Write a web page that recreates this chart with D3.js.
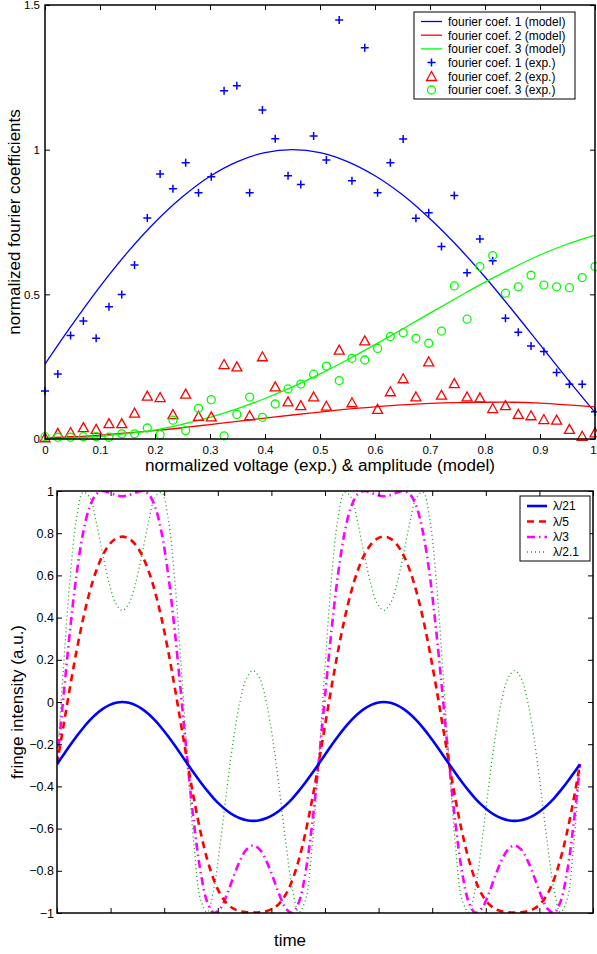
<!DOCTYPE html>
<html><head><meta charset="utf-8">
<script src="https://cdn.jsdelivr.net/npm/d3@7"></script>
<style>
body{margin:0;background:#fff}
svg{display:block}
text{font-family:"Liberation Sans",Arial,Helvetica,sans-serif;fill:#000}
</style>
</head><body><svg id="c" width="597" height="954"></svg>
<script>
// ---------- TOP CHART DATA ----------
const expVoltage = [0,0.0233,0.0465,0.0698,0.0930,0.1163,0.1395,0.1628,0.1860,0.2093,0.2326,0.2558,0.2791,0.3023,0.3256,0.3488,0.3721,0.3953,0.4186,0.4419,0.4651,0.4884,0.5116,0.5349,0.5581,0.5814,0.6047,0.6279,0.6512,0.6744,0.6977,0.7209,0.7442,0.7674,0.7907,0.8140,0.8372,0.8605,0.8837,0.9070,0.9302,0.9535,0.9767,1.0000];
const coef1Exp = [0.166,0.225,0.358,0.408,0.348,0.457,0.499,0.601,0.764,0.916,0.865,0.955,0.851,0.906,1.204,1.221,0.851,1.137,1.038,0.910,0.880,1.047,0.964,1.448,0.893,1.352,0.851,0.955,1.037,0.763,0.782,0.665,0.842,0.575,0.691,0.616,0.417,0.369,0.321,0.302,0.230,0.189,0.189,0.094];
const coef2Exp = [0.005,0.020,0.023,0.040,0.034,0.054,0.054,0.090,0.149,0.144,0.085,0.156,0.079,0.077,0.258,0.250,0.081,0.285,0.181,0.129,0.116,0.146,0.114,0.308,0.126,0.340,0.103,0.164,0.209,0.146,0.267,0.152,0.192,0.146,0.143,0.106,0.116,0.086,0.081,0.068,0.066,0.034,0.010,0.022];
const coef3Exp = [0.008,0.006,0.006,0.008,0.008,0.006,0.018,0.018,0.038,0.015,0.065,0.029,0.106,0.136,0.011,0.085,0.145,0.075,0.121,0.173,0.190,0.224,0.252,0.202,0.279,0.273,0.313,0.354,0.367,0.348,0.331,0.373,0.529,0.414,0.596,0.634,0.504,0.526,0.566,0.532,0.526,0.523,0.558,0.596];
const modelAmp = [0,0.05,0.10,0.15,0.20,0.25,0.30,0.35,0.40,0.45,0.50,0.55,0.60,0.65,0.70,0.75,0.80,0.85,0.90,0.95,1.00];
const coef1Model = [0.259,0.397,0.527,0.645,0.749,0.837,0.908,0.959,0.990,1.000,0.990,0.959,0.910,0.844,0.761,0.666,0.560,0.445,0.326,0.207,0.092];
const coef2Model = [0.003,0.007,0.013,0.021,0.029,0.039,0.050,0.061,0.072,0.083,0.093,0.103,0.111,0.118,0.123,0.126,0.127,0.127,0.124,0.118,0.111];
const coef3Model = [0.001,0.004,0.009,0.019,0.031,0.051,0.075,0.105,0.140,0.180,0.225,0.274,0.326,0.380,0.435,0.489,0.542,0.591,0.636,0.674,0.705];
const topXTicks = [0,0.1,0.2,0.3,0.4,0.5,0.6,0.7,0.8,0.9,1];
const topXTickLabels = ["0","0.1","0.2","0.3","0.4","0.5","0.6","0.7","0.8","0.9","1"];
const topYTicks = [0,0.5,1,1.5];
const topYTickLabels = ["0","0.5","1","1.5"];
const topLegend = ["fourier coef. 1 (model)","fourier coef. 2 (model)","fourier coef. 3 (model)","fourier coef. 1 (exp.)","fourier coef. 2 (exp.)","fourier coef. 3 (exp.)"];

// ---------- BOTTOM CHART DATA ----------
const timeSamples = d3.range(81); // sample index along time axis
const lam21 = [-0.2947,-0.2497,-0.2053,-0.1626,-0.1230,-0.0875,-0.0571,-0.0326,-0.0146,-0.0037,0.0000,-0.0037,-0.0146,-0.0326,-0.0571,-0.0875,-0.1230,-0.1626,-0.2053,-0.2497,-0.2947,-0.3391,-0.3817,-0.4215,-0.4574,-0.4888,-0.5152,-0.5361,-0.5512,-0.5603,-0.5633,-0.5603,-0.5512,-0.5361,-0.5152,-0.4888,-0.4574,-0.4215,-0.3817,-0.3391,
 -0.2947,-0.2497,-0.2053,-0.1626,-0.1230,-0.0875,-0.0571,-0.0326,-0.0146,-0.0037,0.0000,-0.0037,-0.0146,-0.0326,-0.0571,-0.0875,-0.1230,-0.1626,-0.2053,-0.2497,-0.2947,-0.3391,-0.3817,-0.4215,-0.4574,-0.4888,-0.5152,-0.5361,-0.5512,-0.5603,-0.5633,-0.5603,-0.5512,-0.5361,-0.5152,-0.4888,-0.4574,-0.4215,-0.3817,-0.3391,-0.2947];
const lam5 = [-0.2947,-0.1113,0.0716,0.2431,0.3950,0.5221,0.6222,0.6961,0.7461,0.7746,0.7838,0.7746,0.7461,0.6961,0.6222,0.5221,0.3950,0.2431,0.0716,-0.1113,-0.2947,-0.4679,-0.6210,-0.7473,-0.8439,-0.9118,-0.9551,-0.9796,-0.9915,-0.9963,-0.9974,-0.9963,-0.9915,-0.9796,-0.9551,-0.9118,-0.8439,-0.7473,-0.6210,-0.4679,
 -0.2947,-0.1113,0.0716,0.2431,0.3950,0.5221,0.6222,0.6961,0.7461,0.7746,0.7838,0.7746,0.7461,0.6961,0.6222,0.5221,0.3950,0.2431,0.0716,-0.1113,-0.2947,-0.4679,-0.6210,-0.7473,-0.8439,-0.9118,-0.9551,-0.9796,-0.9915,-0.9963,-0.9974,-0.9963,-0.9915,-0.9796,-0.9551,-0.9118,-0.8439,-0.7473,-0.6210,-0.4679,-0.2947];
const lam3 = [-0.2947,0.0284,0.3410,0.6066,0.8027,0.9253,0.9846,1.0000,0.9926,0.9803,0.9749,0.9803,0.9926,1.0000,0.9846,0.9253,0.8027,0.6066,0.3410,0.0284,-0.2947,-0.5865,-0.8113,-0.9490,-0.9992,-0.9782,-0.9120,-0.8284,-0.7515,-0.6988,-0.6802,-0.6988,-0.7515,-0.8284,-0.9120,-0.9782,-0.9992,-0.9490,-0.8113,-0.5865,
 -0.2947,0.0284,0.3410,0.6066,0.8027,0.9253,0.9846,1.0000,0.9926,0.9803,0.9749,0.9803,0.9926,1.0000,0.9846,0.9253,0.8027,0.6066,0.3410,0.0284,-0.2947,-0.5865,-0.8113,-0.9490,-0.9992,-0.9782,-0.9120,-0.8284,-0.7515,-0.6988,-0.6802,-0.6988,-0.7515,-0.8284,-0.9120,-0.9782,-0.9992,-0.9490,-0.8113,-0.5865,-0.2947];
const lam21x = [-0.2947,0.1680,0.5854,0.8720,0.9938,0.9700,0.8523,0.6997,0.5606,0.4667,0.4339,0.4667,0.5606,0.6997,0.8523,0.9700,0.9938,0.8720,0.5854,0.1680,-0.2947,-0.6941,-0.9404,-0.9962,-0.8837,-0.6645,-0.4095,-0.1756,0.0033,0.1126,0.1491,0.1126,0.0033,-0.1756,-0.4095,-0.6645,-0.8837,-0.9962,-0.9404,-0.6941,
 -0.2947,0.1680,0.5854,0.8720,0.9938,0.9700,0.8523,0.6997,0.5606,0.4667,0.4339,0.4667,0.5606,0.6997,0.8523,0.9700,0.9938,0.8720,0.5854,0.1680,-0.2947,-0.6941,-0.9404,-0.9962,-0.8837,-0.6645,-0.4095,-0.1756,0.0033,0.1126,0.1491,0.1126,0.0033,-0.1756,-0.4095,-0.6645,-0.8837,-0.9962,-0.9404,-0.6941,-0.2947];
const botXTicks = [0,8.2,16.4,24.6,32.8,41,49.2,57.4,65.6,73.8,82];
const botYTicks = [-1,-0.8,-0.6,-0.4,-0.2,0,0.2,0.4,0.6,0.8,1];
const botYTickLabels = ["\u22121","\u22120.8","\u22120.6","\u22120.4","\u22120.2","0","0.2","0.4","0.6","0.8","1"];
const botLegend = ["\u03bb/21","\u03bb/5","\u03bb/3","\u03bb/2.1"];

// ---------- DRAW ----------
const svg = d3.select("#c");
const FONT = '"Liberation Sans",Arial,Helvetica,sans-serif';

function finishAxis(g, size){
  g.attr("font-family", FONT).attr("font-size", size);
  g.select(".domain").remove();
  g.selectAll(".tick line").attr("stroke","#000").attr("stroke-width",1);
  g.selectAll(".tick text").attr("fill","#000");
}

// ===== TOP =====
const T = {l:45, r:595, t:5, b:439};
const xT = d3.scaleLinear().domain([0,1]).range([T.l,T.r]);
const yT = d3.scaleLinear().domain([0,1.5]).range([T.b,T.t]);
const gT = svg.append("g");

const lineT = (ys) => d3.line().x((d,i)=>xT(modelAmp[i])).y(d=>yT(d)).curve(d3.curveCatmullRom.alpha(0.5))(ys);
const cBlue="#0000ff", cRed="#ff0000", cGreen="#00ff00";
gT.append("path").attr("d", lineT(coef1Model)).attr("fill","none").attr("stroke",cBlue).attr("stroke-width",1.3);
gT.append("path").attr("d", lineT(coef2Model)).attr("fill","none").attr("stroke",cRed).attr("stroke-width",1.3);
gT.append("path").attr("d", lineT(coef3Model)).attr("fill","none").attr("stroke",cGreen).attr("stroke-width",1.3);

const plusPath = "M-4,0H4M0,-4V4";
const triPath = "M0,-4.8L5,4.2L-5,4.2Z";
gT.append("g").selectAll("path").data(coef1Exp).join("path")
  .attr("transform",(d,i)=>`translate(${xT(expVoltage[i])},${yT(d)})`)
  .attr("d",plusPath).attr("stroke",cBlue).attr("stroke-width",1.5).attr("fill","none");
gT.append("g").selectAll("path").data(coef2Exp).join("path")
  .attr("transform",(d,i)=>`translate(${xT(expVoltage[i])},${yT(d)})`)
  .attr("d",triPath).attr("stroke",cRed).attr("stroke-width",1.3).attr("fill","none");
gT.append("g").selectAll("circle").data(coef3Exp).join("circle")
  .attr("cx",(d,i)=>xT(expVoltage[i])).attr("cy",d=>yT(d)).attr("r",4)
  .attr("stroke",cGreen).attr("stroke-width",1.3).attr("fill","none");

const xAxisT = gT.append("g").attr("transform",`translate(0,${T.b})`)
  .call(d3.axisBottom(xT).tickValues(topXTicks).tickFormat((d,i)=>topXTickLabels[i]).tickSize(-5).tickPadding(7))
  .call(g=>finishAxis(g,11.5));
// keep the last label ("1") inside the page edge
xAxisT.selectAll(".tick text").filter((d,i)=>i===topXTicks.length-1).attr("dx","-2");
gT.append("g").attr("transform",`translate(0,${T.t})`)
  .call(d3.axisTop(xT).tickValues(topXTicks).tickFormat("").tickSize(-5)).call(g=>finishAxis(g,11.5));
gT.append("g").attr("transform",`translate(${T.l},0)`)
  .call(d3.axisLeft(yT).tickValues(topYTicks).tickFormat((d,i)=>topYTickLabels[i]).tickSize(-5).tickPadding(5))
  .call(g=>finishAxis(g,11.5));
gT.append("g").attr("transform",`translate(${T.r},0)`)
  .call(d3.axisRight(yT).tickValues(topYTicks).tickFormat("").tickSize(-5)).call(g=>finishAxis(g,11.5));
gT.append("rect").attr("x",T.l).attr("y",T.t).attr("width",T.r-T.l).attr("height",T.b-T.t)
  .attr("fill","none").attr("stroke","#000").attr("stroke-width",1.5);

gT.append("text").attr("transform",`translate(20,${(T.t+T.b)/2}) rotate(-90)`).attr("text-anchor","middle")
  .style("font-size","17px").text("normalized fourier coefficients");
gT.append("text").attr("x",(T.l+T.r)/2).attr("y",471).attr("text-anchor","middle")
  .attr("textLength",350).attr("lengthAdjust","spacingAndGlyphs")
  .style("font-size","16px").text("normalized voltage (exp.) & amplitude (model)");

// legend top
const LT = gT.append("g");
LT.append("rect").attr("x",414).attr("y",12).attr("width",161).attr("height",87).attr("fill","#fff").attr("stroke","#000").attr("stroke-width",1);
const ltY = [21.5,35.2,48.9,62.6,76.3,90];
const ltCol = [cBlue,cRed,cGreen,cBlue,cRed,cGreen];
topLegend.forEach((lab,i)=>{
  const y = ltY[i];
  if(i<3){
    LT.append("line").attr("x1",421).attr("x2",442).attr("y1",y).attr("y2",y).attr("stroke",ltCol[i]).attr("stroke-width",1.3);
  } else if(i===3){
    LT.append("path").attr("transform",`translate(431.5,${y})`).attr("d",plusPath).attr("stroke",cBlue).attr("stroke-width",1.5);
  } else if(i===4){
    LT.append("path").attr("transform",`translate(431.5,${y})`).attr("d",triPath).attr("stroke",cRed).attr("stroke-width",1.3).attr("fill","none");
  } else {
    LT.append("circle").attr("cx",431.5).attr("cy",y).attr("r",4).attr("stroke",cGreen).attr("stroke-width",1.3).attr("fill","none");
  }
  LT.append("text").attr("x",448).attr("y",y).attr("dy","0.36em").style("font-size","12px").text(lab);
});

// ===== BOTTOM =====
const B = {l:57, r:593, t:491, b:913};
const xB = d3.scaleLinear().domain([0,82]).range([B.l,B.r]);
const yB = d3.scaleLinear().domain([-1,1]).range([B.b,B.t]);
const gB = svg.append("g");
svg.append("clipPath").attr("id","clipB").append("rect").attr("x",B.l).attr("y",B.t).attr("width",B.r-B.l).attr("height",B.b-B.t);

const lineB = d3.line().x((d,i)=>xB(timeSamples[i])).y(d=>yB(d)).curve(d3.curveCatmullRom.alpha(0.5));
const series = [
  {v:lam21,  c:"#0000ff", w:2.6, dash:null},
  {v:lam5,   c:"#ff0000", w:2.6, dash:"7,5"},
  {v:lam3,   c:"#ff00ff", w:2.6, dash:"8,4,1.5,4"},
  {v:lam21x, c:"#1f9a1f", w:1.3, dash:"1,3"}
];
const gLines = gB.append("g").attr("clip-path","url(#clipB)");
series.slice().reverse().forEach(s=>{
  gLines.append("path").attr("d",lineB(s.v)).attr("fill","none").attr("stroke",s.c)
    .attr("stroke-width",s.w).attr("stroke-dasharray",s.dash);
});

gB.append("g").attr("transform",`translate(0,${B.b})`)
  .call(d3.axisBottom(xB).tickValues(botXTicks).tickFormat("").tickSize(-5)).call(g=>finishAxis(g,12.5));
gB.append("g").attr("transform",`translate(0,${B.t})`)
  .call(d3.axisTop(xB).tickValues(botXTicks).tickFormat("").tickSize(-5)).call(g=>finishAxis(g,12.5));
gB.append("g").attr("transform",`translate(${B.l},0)`)
  .call(d3.axisLeft(yB).tickValues(botYTicks).tickFormat((d,i)=>botYTickLabels[i]).tickSize(-5).tickPadding(3))
  .call(g=>finishAxis(g,12.5));
gB.append("g").attr("transform",`translate(${B.r},0)`)
  .call(d3.axisRight(yB).tickValues(botYTicks).tickFormat("").tickSize(-5)).call(g=>finishAxis(g,12.5));
gB.append("rect").attr("x",B.l).attr("y",B.t).attr("width",B.r-B.l).attr("height",B.b-B.t)
  .attr("fill","none").attr("stroke","#000").attr("stroke-width",1.5);

gB.append("text").attr("transform",`translate(23,${(B.t+B.b)/2}) rotate(-90)`).attr("text-anchor","middle")
  .style("font-size","17px").text("fringe intensity (a.u.)");
gB.append("text").attr("x",290).attr("y",946).attr("text-anchor","middle")
  .style("font-size","17px").text("time");

// legend bottom
const LB = gB.append("g");
LB.append("rect").attr("x",520).attr("y",496).attr("width",70).attr("height",65).attr("fill","#fff").attr("stroke","#000").attr("stroke-width",1);
const lbY = [506,521.5,537,552];
botLegend.forEach((lab,i)=>{
  const s = series[i], y = lbY[i];
  LB.append("line").attr("x1",527).attr("x2",547).attr("y1",y).attr("y2",y).attr("stroke",s.c)
    .attr("stroke-width",s.w).attr("stroke-dasharray",s.dash);
  LB.append("text").attr("x",553).attr("y",y).attr("dy","0.36em").style("font-size","12px").text(lab);
});
</script>
</body></html>
